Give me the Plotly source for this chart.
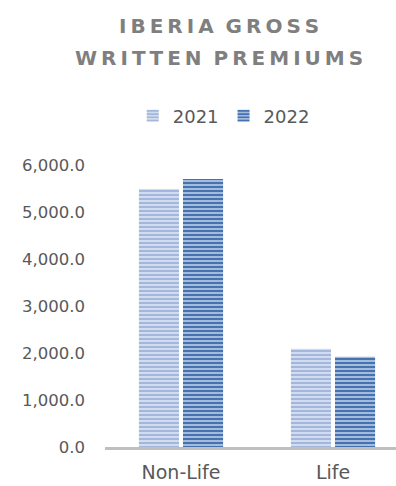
import plotly.graph_objects as go

# Gross written premiums by business line
categories = ["Non-Life", "Life"]
years = ["2021", "2022"]
premiums_2021 = [5490.0, 2092.0]
premiums_2022 = [5703.0, 1922.0]
y_ticks = [0, 1000, 2000, 3000, 4000, 5000, 6000]

series = [
    (years[0], premiums_2021, "#a3b6dc", "#d2dcef"),
    (years[1], premiums_2022, "#4673b0", "#a3bbdd"),
]

fig = go.Figure()
for name, values, stripe, base in series:
    fig.add_trace(go.Bar(
        x=categories,
        y=values,
        name=name,
        marker=dict(
            color=base,
            line=dict(width=0),
            pattern=dict(shape="-", fgcolor=stripe, bgcolor=base,
                         size=4, solidity=0.5, fillmode="replace"),
        ),
    ))

TS = "\u2009"
def spaced(text):
    return (TS * 3).join(TS.join(word) for word in text.split(" "))

font = "DejaVu Sans"
title_font = dict(family=font, size=20, color="#7f7f7f", weight="bold")
fig.update_layout(
    width=396,
    height=486,
    margin=dict(l=105, r=0, t=165, b=38.5),
    paper_bgcolor="white",
    plot_bgcolor="white",
    barmode="group",
    bargap=0.42,
    bargroupgap=0.09,
    showlegend=True,
    legend=dict(
        orientation="h",
        x=0.565, xref="container", xanchor="center",
        y=1 - 116 / 486, yref="container", yanchor="middle",
        font=dict(family=font, size=18, color="#595959"),
        itemwidth=30,
        traceorder="normal",
    ),
    font=dict(family=font, color="#595959"),
    annotations=[
        dict(text=spaced("IBERIA GROSS"), xref="paper", yref="paper",
             x=(219 - 105) / 291, y=1 + (165 - 26) / 282.5,
             xanchor="center", yanchor="middle", showarrow=False,
             font=title_font),
        dict(text=spaced("WRITTEN PREMIUMS"), xref="paper", yref="paper",
             x=(219 - 105) / 291, y=1 + (165 - 58) / 282.5,
             xanchor="center", yanchor="middle", showarrow=False,
             font=title_font),
    ],
)

fig.update_xaxes(
    range=[-0.5, -0.5 + 291 / 152],
    showline=True, linecolor="#bfbfbf", linewidth=2.5,
    showgrid=False, ticks="",
    tickfont=dict(family=font, size=19, color="#595959"),
    ticklabelstandoff=6,
)
fig.update_yaxes(
    range=[0, 6000],
    tickvals=y_ticks,
    tickformat=",.1f",
    showgrid=False, zeroline=False, showline=False, ticks="",
    tickfont=dict(family=font, size=16.5, color="#595959"),
    ticklabelstandoff=19,
)

fig.write_html("out.html")
